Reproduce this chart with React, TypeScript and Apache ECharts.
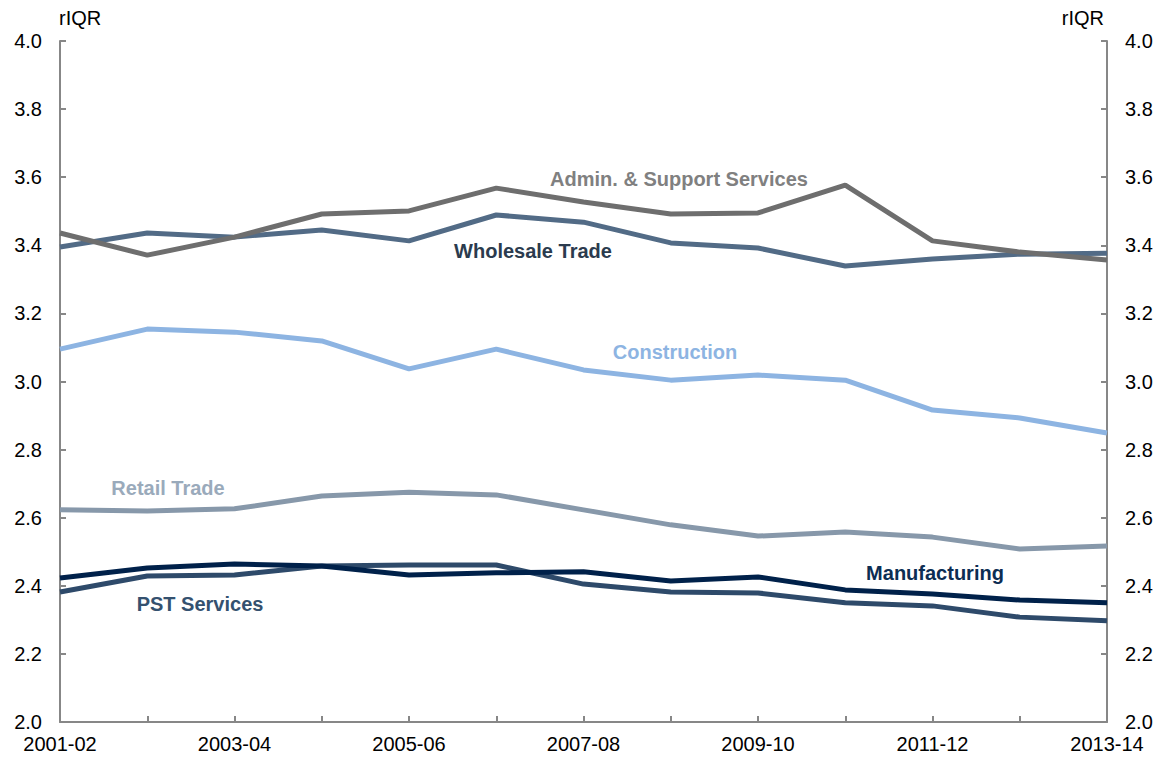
import React, { useEffect, useRef } from "react";
import * as echarts from "echarts";

const categories = [
  "2001-02", "2002-03", "2003-04", "2004-05", "2005-06", "2006-07", "2007-08",
  "2008-09", "2009-10", "2010-11", "2011-12", "2012-13", "2013-14",
];
const adminSupport = [3.436, 3.371, 3.424, 3.492, 3.501, 3.568, 3.527, 3.492, 3.495, 3.577, 3.413, 3.38, 3.357];
const wholesale = [3.395, 3.436, 3.424, 3.445, 3.413, 3.489, 3.468, 3.407, 3.392, 3.339, 3.36, 3.374, 3.377];
const construction = [3.095, 3.154, 3.145, 3.119, 3.037, 3.095, 3.034, 3.004, 3.019, 3.004, 2.916, 2.893, 2.849];
const retail = [2.623, 2.62, 2.626, 2.664, 2.675, 2.667, 2.623, 2.579, 2.546, 2.558, 2.543, 2.508, 2.517];
const manufacturing = [2.423, 2.452, 2.464, 2.458, 2.432, 2.438, 2.441, 2.414, 2.426, 2.388, 2.376, 2.358, 2.35];
const pstServices = [2.382, 2.429, 2.432, 2.458, 2.461, 2.461, 2.405, 2.382, 2.379, 2.35, 2.341, 2.308, 2.297];

const FONT = "'Liberation Sans', Arial, sans-serif";
const AXIS_COLOR = "#878787";

export default function App() {
  const ref = useRef<HTMLDivElement>(null);
  useEffect(() => {
    document.body.style.margin = "0";
    const chart = echarts.init(ref.current!, null, { renderer: "svg" });
    const yAxisBase = {
      type: "value",
      min: 2,
      max: 4,
      interval: 0.2,
      splitLine: { show: false },
      axisLine: { show: true, lineStyle: { color: AXIS_COLOR, width: 2 } },
      axisTick: { show: true, inside: true, length: 6, lineStyle: { color: AXIS_COLOR, width: 2 } },
      axisLabel: {
        color: "#000",
        fontSize: 20,
        fontFamily: FONT,
        margin: 18,
        formatter: (v: number) => v.toFixed(1),
      },
    };
    const line = (name: string, data: number[], color: string) => ({
      name,
      type: "line",
      data,
      symbol: "none",
      lineStyle: { color, width: 5 },
      itemStyle: { color },
    });
    const label = (text: string, x: number, y: number, color: string) => ({
      type: "text",
      x,
      y,
      style: {
        text,
        fill: color,
        font: `bold 20px ${FONT}`,
        textAlign: "center",
        textVerticalAlign: "middle",
      },
    });
    chart.setOption({
      animation: false,
      backgroundColor: "#fff",
      grid: { left: 60, right: 50, top: 41, bottom: 36, containLabel: false },
      xAxis: {
        type: "category",
        data: categories,
        boundaryGap: false,
        axisLine: { show: true, lineStyle: { color: AXIS_COLOR, width: 2 } },
        axisTick: { show: true, inside: true, length: 6, interval: 0, lineStyle: { color: AXIS_COLOR, width: 2 } },
        axisLabel: { color: "#000", fontSize: 20, fontFamily: FONT, interval: 1, margin: 12 },
        splitLine: { show: false },
      },
      yAxis: [
        { ...yAxisBase, position: "left" },
        { ...yAxisBase, position: "right" },
      ],
      series: [
        line("Retail Trade", retail, "#8798aa"),
        line("Construction", construction, "#8db4e2"),
        line("Wholesale Trade", wholesale, "#526b86"),
        line("Admin. & Support Services", adminSupport, "#6e6e6e"),
        line("PST Services", pstServices, "#2e4a6a"),
        line("Manufacturing", manufacturing, "#00214a"),
      ],
      graphic: [
        {
          type: "text", left: 59, top: 8,
          style: { text: "rIQR", fill: "#000", font: `20px ${FONT}` },
        },
        {
          type: "text", right: 53, top: 8,
          style: { text: "rIQR", fill: "#000", font: `20px ${FONT}` },
        },
        label("Admin. & Support Services", 679, 179, "#808080"),
        label("Wholesale Trade", 533, 251, "#2b3b4e"),
        label("Construction", 675, 352, "#8db4e2"),
        label("Retail Trade", 168, 488, "#9aaabb"),
        label("Manufacturing", 935, 573, "#0c2d53"),
        label("PST Services", 200, 604, "#34516f"),
      ],
    });
    return () => chart.dispose();
  }, []);
  return <div ref={ref} style={{ width: 1157, height: 758 }} />;
}
